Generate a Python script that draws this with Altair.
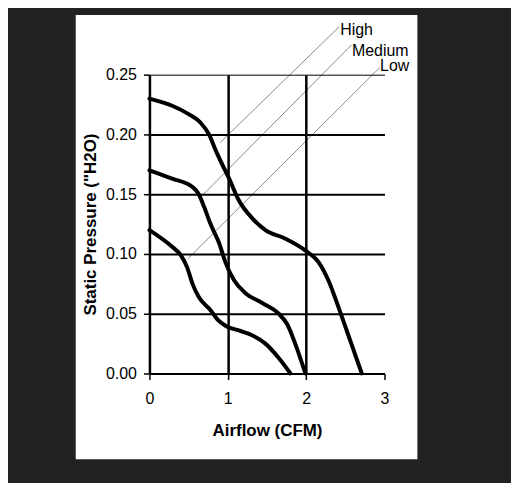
import altair as alt
import pandas as pd

# Fan curves
high_x = [0, 0.29, 0.5, 0.65, 0.76, 0.85, 0.95, 1.01, 1.14, 1.31, 1.48, 1.73, 2.01, 2.16, 2.29, 2.41, 2.56, 2.71]
high_y = [0.23, 0.224, 0.217, 0.21, 0.20, 0.186, 0.172, 0.164, 0.145, 0.13, 0.12, 0.113, 0.102, 0.093, 0.077, 0.056, 0.028, 0.0]

medium_x = [0, 0.29, 0.55, 0.63, 0.70, 0.78, 0.89, 0.97, 1.08, 1.23, 1.44, 1.65, 1.76, 1.86, 1.99]
medium_y = [0.17, 0.163, 0.156, 0.15, 0.139, 0.125, 0.109, 0.093, 0.078, 0.067, 0.059, 0.05, 0.041, 0.025, 0.0]

low_x = [0, 0.29, 0.40, 0.48, 0.55, 0.63, 0.78, 0.87, 0.97, 1.14, 1.31, 1.48, 1.65, 1.80]
low_y = [0.12, 0.106, 0.099, 0.089, 0.075, 0.064, 0.053, 0.045, 0.04, 0.036, 0.032, 0.025, 0.013, 0.0]

# Leader lines and labels
label_names = ["High", "Medium", "Low"]
leader_x1 = [0.90, 0.69, 0.49]
leader_y1 = [0.193, 0.150, 0.096]
leader_x2 = [2.42, 2.58, 2.94]
leader_y2 = [0.290, 0.275, 0.256]
label_x = [2.435, 2.585, 2.944]
label_y = [0.2835, 0.2660, 0.2530]

x_ticks = [0, 1, 2, 3]
y_ticks = [0, 0.05, 0.10, 0.15, 0.20, 0.25]

rows = []
for name, xs, ys in [("High", high_x, high_y), ("Medium", medium_x, medium_y), ("Low", low_x, low_y)]:
    for x, y in zip(xs, ys):
        rows.append({"series": name, "x": x, "y": y})
curves = pd.DataFrame(rows)

leaders = pd.DataFrame({
    "name": label_names, "x1": leader_x1, "y1": leader_y1,
    "x2": leader_x2, "y2": leader_y2, "lx": label_x, "ly": label_y,
})

FONT = "Liberation Sans"

xscale = alt.Scale(domain=[0, 3], nice=False, zero=False)
yscale = alt.Scale(domain=[0, 0.25], nice=False, zero=False)

xaxis = alt.Axis(
    values=x_ticks, format="d", title="Airflow (CFM)", zindex=1,
    grid=True, gridColor="black", gridWidth=2.5,
    gridOpacity={"condition": {"test": "datum.value >= 3 || datum.value <= 0", "value": 0}, "value": 1},
    domainColor="black", domainWidth=2, tickColor="black", tickWidth=1.5, tickSize=6,
    labelFont=FONT, labelFontSize=16, labelColor="black", labelPadding=11, labelFlush=False,
    titleFont=FONT, titleFontSize=17, titleFontWeight="bold", titleColor="black", titlePadding=16,
)
yaxis = alt.Axis(
    values=y_ticks, format=".2f", title='Static Pressure ("H2O)', zindex=1,
    grid=True, gridColor="black",
    gridWidth={"condition": {"test": "datum.value >= 0.249", "value": 1}, "value": 2},
    domainColor="black", domainWidth=2.5, tickColor="black", tickWidth=1.5, tickSize=6,
    labelFont=FONT, labelFontSize=16, labelColor="black", labelPadding=7, labelFlush=False,
    titleFont=FONT, titleFontSize=17, titleFontWeight="bold", titleColor="black", titlePadding=6,
)

panel = alt.Chart(pd.DataFrame({"a": [0]})).mark_rect(color="white").encode(
    x=alt.value(-74), x2=alt.value(269), y=alt.value(-60), y2=alt.value(386)
)

lines = alt.Chart(curves).mark_line(color="black", strokeWidth=4, interpolate="monotone",
                                    strokeJoin="round", strokeCap="round").encode(
    x=alt.X("x:Q", scale=xscale, axis=xaxis),
    y=alt.Y("y:Q", scale=yscale, axis=yaxis),
    detail="series:N",
)

rules = alt.Chart(leaders).mark_rule(color="#8a8a8a", strokeWidth=1).encode(
    x=alt.X("x1:Q", scale=xscale), y=alt.Y("y1:Q", scale=yscale),
    x2="x2:Q", y2="y2:Q",
)

texts = alt.Chart(leaders).mark_text(align="left", baseline="alphabetic", font=FONT,
                                     fontSize=16, color="black").encode(
    x=alt.X("lx:Q", scale=xscale), y=alt.Y("ly:Q", scale=yscale), text="name:N",
)

chart = alt.layer(panel, rules, lines, texts).properties(
    width=236, height=300,
    padding={"left": 142, "top": 66, "right": 127, "bottom": 109},
    autosize="none",
    background="#222222",
).configure_view(stroke=None)

chart.save("out.html", embed_options={"renderer": "svg", "actions": False})
